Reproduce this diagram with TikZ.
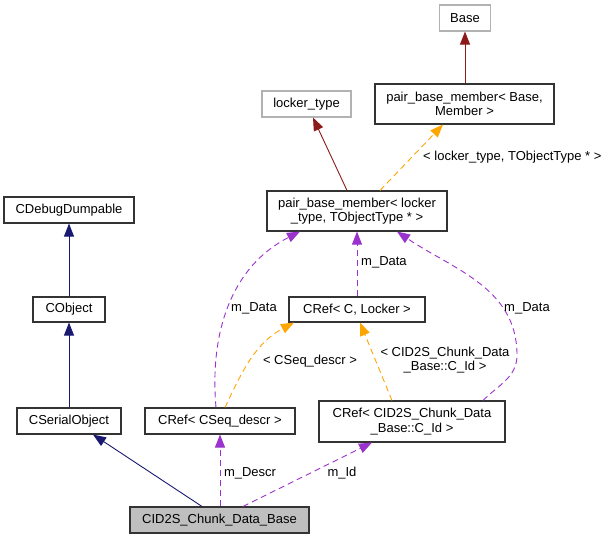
\documentclass[tikz,border=0pt]{standalone}
\usepackage{fontspec}
\setmainfont{Liberation Sans}
\usetikzlibrary{arrows.meta}

\definecolor{inhblue}{HTML}{191970}
\definecolor{usepurple}{HTML}{9A32CD}
\definecolor{tmplorange}{HTML}{FFA500}
\definecolor{extred}{HTML}{8B1A1A}

\begin{document}
\begin{tikzpicture}[x=1pt, y=-1pt,
font=\fontsize{13}{14.5}\selectfont,
cls/.style={rectangle, draw=black!80, line width=1.1pt, inner sep=0pt, align=center},
ext/.style={cls, draw=black!30},
focus/.style={cls, fill=black!25},
inh/.style={-{Triangle[length=13pt,width=10pt]}, inhblue, line width=0.9pt},
use/.style={-{Triangle[length=13pt,width=10pt]}, usepurple, line width=0.9pt, dash pattern=on 6pt off 4pt},
tmpl/.style={-{Triangle[length=13pt,width=10pt]}, tmplorange, line width=0.9pt, dash pattern=on 6pt off 4pt},
extr/.style={-{Triangle[length=13pt,width=10pt]}, extred, line width=0.9pt},
lbl/.style={inner sep=0pt, align=center}]

\useasboundingbox (0,0) rectangle (612,539);

% classes
\node[ext] (base) [minimum width=51pt, minimum height=26pt] at (465,18) {Base};
\node[cls] (pbmbase) [minimum width=179pt, minimum height=40pt] at (464.5,104) {pair\_base\_member< Base,\\Member >};
\node[ext] (locker) [minimum width=89pt, minimum height=26pt] at (306.5,104) {locker\_type};
\node[cls] (pbmlock) [minimum width=180pt, minimum height=40pt] at (357,211) {pair\_base\_member< locker\\\_type, TObjectType * >};
\node[cls] (crefc) [minimum width=136pt, minimum height=25pt] at (357,309.5) {CRef< C, Locker >};
\node[cls] (cdebug) [minimum width=130pt, minimum height=26pt] at (69,210) {CDebugDumpable};
\node[cls] (cobject) [minimum width=72pt, minimum height=25pt] at (69,309.5) {CObject};
\node[cls] (cserial) [minimum width=104pt, minimum height=26pt] at (69,421) {CSerialObject};
\node[cls] (crefseq) [minimum width=150pt, minimum height=26pt] at (220,421) {CRef< CSeq\_descr >};
\node[cls] (crefid) [minimum width=186pt, minimum height=41pt] at (412,421.5) {CRef< CID2S\_Chunk\_Data\\\_Base::C\_Id >};
\node[focus] (chunk) [minimum width=179pt, minimum height=26pt] at (219.5,520) {CID2S\_Chunk\_Data\_Base};

% inheritance
\draw[inh] (cobject) -- (cdebug);
\draw[inh] (cserial) -- (cobject);
\draw[inh] ([xshift=-17.5pt]chunk.north) -- ([xshift=24pt]cserial.south);

% members
\draw[use] (chunk.north -| crefseq.south) -- (crefseq.south);
\node[lbl] (ldescr) at (250,473) {m\_Descr};
\draw[use] ([xshift=23.5pt]chunk.north) -- ([xshift=-40pt]crefid.south);
\node[lbl] (lid) at (342,473) {m\_Id};
\draw[use] (crefc.north) -- (pbmlock.south);
\node[lbl] (ldata1) [anchor=west] at (361,262) {m\_Data};
\draw[use] ([xshift=-4pt]crefseq.north) to[out=95, in=207] ([xshift=-57pt]pbmlock.south);
\node[lbl] (ldata2) at (254,308) {m\_Data};
\draw[use] ([xshift=71pt]crefid.north) to[out=45, in=-90] (517,355) to[out=90, in=-34] ([xshift=40pt]pbmlock.south);
\node[lbl] (ldata3) at (527,308) {m\_Data};

% templates
\draw[tmpl] ([xshift=5pt]crefseq.north) to[out=65, in=208] ([xshift=-63pt]crefc.south);
\node[lbl] (lseq) at (310,361) {< CSeq\_descr >};
\draw[tmpl] ([xshift=-20pt]crefid.north) -- ([xshift=3pt]crefc.south);
\node[lbl] (lcid) at (445,360) {< CID2S\_Chunk\_Data\\\_Base::C\_Id >};
\draw[tmpl] ([xshift=23pt]pbmlock.north) -- ([xshift=-21.5pt]pbmbase.south);
\node[lbl] (llock) [anchor=west] at (423,157) {< locker\_type, TObjectType * >};

% external
\draw[extr] ([xshift=-10pt]pbmlock.north) -- ([xshift=6.5pt]locker.south);
\draw[extr] ([xshift=0.5pt]pbmbase.north) -- (base.south);
\end{tikzpicture}
\end{document}
